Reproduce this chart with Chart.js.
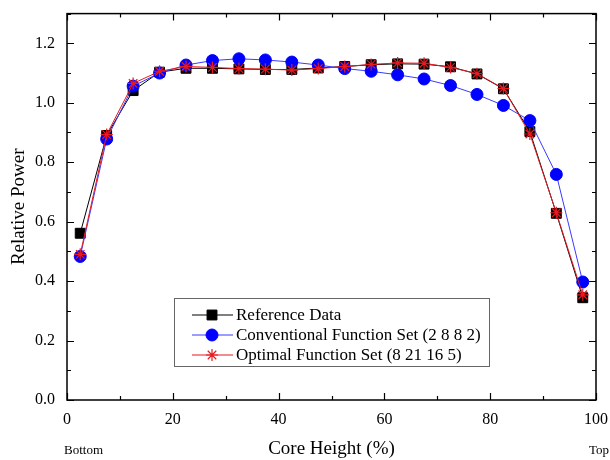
<!DOCTYPE html>
<html>
<head>
<meta charset="utf-8">
<script src="https://cdn.jsdelivr.net/npm/chart.js@4.4.0/dist/chart.umd.min.js"></script>
<style>
  html, body { margin: 0; padding: 0; background: #fff; }
  #wrap { width: 610px; height: 460px; }
</style>
</head>
<body>
<div id="wrap"><canvas id="powerChart" width="610" height="460"></canvas></div>
<script>
// ================= Data =================
const coreHeight = [2.5, 7.5, 12.5, 17.5, 22.5, 27.5, 32.5, 37.5, 42.5, 47.5,
                    52.5, 57.5, 62.5, 67.5, 72.5, 77.5, 82.5, 87.5, 92.5, 97.5];

const referenceData = [0.561, 0.89, 1.041, 1.103, 1.116, 1.116, 1.114, 1.112, 1.112, 1.117,
                       1.122, 1.128, 1.131, 1.130, 1.121, 1.097, 1.047, 0.903, 0.628, 0.344];

const conventionalSet = [0.483, 0.878, 1.056, 1.100, 1.127, 1.142, 1.148, 1.144, 1.137, 1.127,
                         1.115, 1.106, 1.094, 1.080, 1.058, 1.028, 0.991, 0.940, 0.759, 0.397];

const optimalSet = [0.490, 0.893, 1.065, 1.106, 1.122, 1.119, 1.115, 1.113, 1.110, 1.115,
                    1.122, 1.129, 1.134, 1.133, 1.119, 1.098, 1.048, 0.895, 0.630, 0.354];

const xTicks = [0, 20, 40, 60, 80, 100];
const yTicks = [0.0, 0.2, 0.4, 0.6, 0.8, 1.0, 1.2];

const serif = "'Liberation Serif', 'Times New Roman', serif";

function toPoints(values) {
    return values.map((v, i) => ({ x: coreHeight[i], y: v }));
}

// ================= Inward ticks + frame =================
const framePlugin = {
    id: "frame",
    afterDatasetsDraw(chart) {
        const { ctx, chartArea: a, scales } = chart;
        ctx.save();
        ctx.strokeStyle = "#000";
        ctx.lineWidth = 1.5;
        ctx.strokeRect(a.left, a.top, a.right - a.left, a.bottom - a.top);
        ctx.lineWidth = 1.2;
        for (let v = 0; v <= 100; v += 10) {
            const px = Math.round(scales.x.getPixelForValue(v)) + 0.5;
            const len = v % 20 === 0 ? 7 : 4;
            ctx.beginPath();
            ctx.moveTo(px, a.bottom); ctx.lineTo(px, a.bottom - len);
            ctx.moveTo(px, a.top); ctx.lineTo(px, a.top + len);
            ctx.stroke();
        }
        for (let k = 0; k <= 13; k++) {
            const py = Math.round(scales.y.getPixelForValue(k / 10)) + 0.5;
            const len = k % 2 === 0 ? 7 : 4;
            ctx.beginPath();
            ctx.moveTo(a.left, py); ctx.lineTo(a.left + len, py);
            ctx.moveTo(a.right, py); ctx.lineTo(a.right - len, py);
            ctx.stroke();
        }
        ctx.restore();
    }
};

// ================= Legend box + Bottom/Top =================
const legendPlugin = {
    id: "boxLegend",
    afterDraw(chart) {
        const { ctx } = chart;
        const x0 = 174, y0 = 298, w = 315, h = 68;
        ctx.save();
        ctx.fillStyle = "#fff";
        ctx.fillRect(x0, y0, w, h);
        ctx.strokeStyle = "#666";
        ctx.lineWidth = 1;
        ctx.strokeRect(x0 + 0.5, y0 + 0.5, w, h);

        chart.data.datasets.forEach((ds, i) => {
            const y = y0 + 17 + i * 20;
            ctx.strokeStyle = ds.borderColor;
            ctx.lineWidth = 1;
            ctx.beginPath();
            ctx.moveTo(x0 + 18, y); ctx.lineTo(x0 + 59, y);
            ctx.stroke();
            ctx.fillStyle = ds.backgroundColor;
            ctx.strokeStyle = ds.pointBorderColor || ds.borderColor;
            ctx.lineWidth = ds.pointBorderWidth;
            Chart.helpers.drawPoint(ctx, {
                pointStyle: ds.pointStyle,
                radius: ds.pointRadius,
                borderWidth: ds.pointBorderWidth
            }, x0 + 38, y);
            ctx.fillStyle = "#000";
            ctx.font = "17px " + serif;
            ctx.textBaseline = "middle";
            ctx.textAlign = "left";
            ctx.fillText(ds.label, x0 + 62, y + 1);
        });

        ctx.font = "13px " + serif;
        ctx.fillStyle = "#000";
        ctx.textBaseline = "middle";
        ctx.textAlign = "left";
        ctx.fillText("Bottom", 64, 451);
        ctx.textAlign = "right";
        ctx.fillText("Top", 609, 451);
        ctx.restore();
    }
};

// ================= Chart =================
const powerChart = new Chart(document.getElementById("powerChart"), {
    type: "line",
    data: {
        datasets: [
            {
                label: "Reference Data",
                data: toPoints(referenceData),
                borderColor: "#000000",
                backgroundColor: "#000000",
                pointStyle: "rect",
                pointRadius: 7,
                pointBorderWidth: 1,
                borderWidth: 1,
                order: 3
            },
            {
                label: "Conventional Function Set (2 8 8 2)",
                data: toPoints(conventionalSet),
                borderColor: "#3a3aff",
                backgroundColor: "#0000ff",
                pointBorderColor: "#0000ff",
                pointStyle: "circle",
                pointRadius: 6,
                pointBorderWidth: 1,
                borderWidth: 1,
                order: 2
            },
            {
                label: "Optimal Function Set (8 21 16 5)",
                data: toPoints(optimalSet),
                borderColor: "#e8191f",
                backgroundColor: "#e8191f",
                pointStyle: "star",
                pointRadius: 6,
                pointBorderWidth: 1.2,
                borderWidth: 1,
                order: 1
            }
        ]
    },
    plugins: [framePlugin, legendPlugin],
    options: {
        responsive: false,
        animation: false,
        layout: { padding: { top: 12, right: 13, left: 0, bottom: 0 } },
        plugins: {
            legend: { display: false },
            tooltip: { enabled: false }
        },
        elements: { line: { tension: 0 } },
        scales: {
            x: {
                type: "linear",
                min: 0,
                max: 100,
                afterBuildTicks: (scale) => {
                    scale.ticks = xTicks.map(v => ({ value: v }));
                },
                afterFit: (scale) => { scale.height = 60; },
                ticks: {
                    color: "#000",
                    padding: 2,
                    font: { family: serif, size: 16 }
                },
                grid: { display: false },
                border: { display: false },
                title: {
                    display: true,
                    text: "Core Height (%)",
                    color: "#000",
                    font: { family: serif, size: 19 },
                    padding: { top: 0, bottom: 0 }
                }
            },
            y: {
                type: "linear",
                min: 0,
                max: 1.3,
                afterBuildTicks: (scale) => {
                    scale.ticks = yTicks.map(v => ({ value: v }));
                },
                afterFit: (scale) => { scale.width = 67; },
                ticks: {
                    color: "#000",
                    padding: 4,
                    font: { family: serif, size: 16 },
                    callback: (v) => Number(v).toFixed(1)
                },
                grid: { display: false },
                border: { display: false },
                title: {
                    display: true,
                    text: "Relative Power",
                    color: "#000",
                    font: { family: serif, size: 19 },
                    padding: { top: 8, bottom: 4 }
                }
            }
        }
    }
});
</script>
</body>
</html>
